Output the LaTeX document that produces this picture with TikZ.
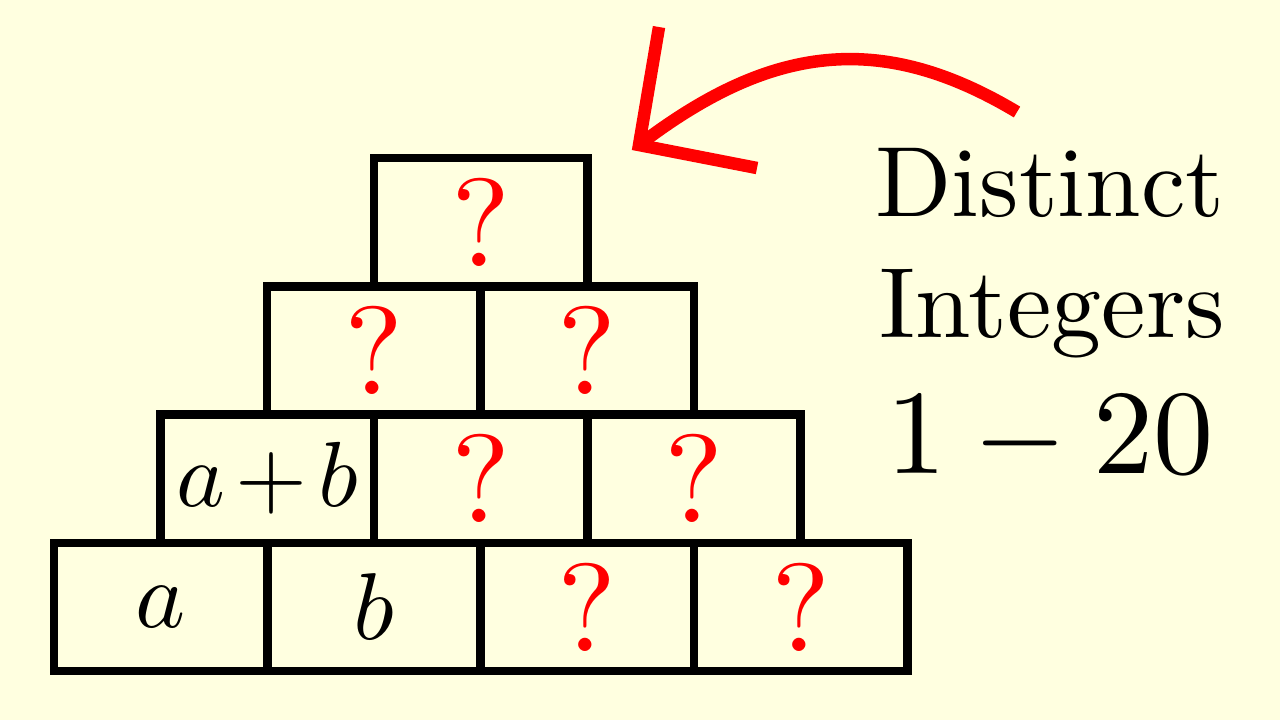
\documentclass[tikz,border=0pt]{standalone}
\usepackage{graphicx}
\definecolor{paper}{RGB}{255,255,224}
\tikzset{
cell/.style={rectangle, draw, line width=0.085cm, minimum width=2.133cm, minimum height=1.2825cm, inner sep=0pt},
ask/.style={cell, text=red},
caption/.style={anchor=base},
arrowline/.style={draw=red, line width=0.125cm, line join=miter}
}

\begin{document}
\begin{tikzpicture}[x=0.01cm, y=-0.01cm]
\fill[paper] (0,0) rectangle (1280,720);

% bottom row
\node[cell] (a1) at (160.65,606.9) {\scalebox{2.7}{$a$}};
\node[cell] (a2) at (373.95,606.9) {\scalebox{2.7}{$b$}};
\node[ask] (a3) at (587.25,606.9) {\scalebox{3.56}{?}};
\node[ask] (a4) at (800.55,606.9) {\scalebox{3.56}{?}};
% second row
\node[cell] (b1) at (267.3,478.6) {\scalebox{2.63}{$a\mkern2mu{+}\mkern2mu b$}};
\node[ask] (b2) at (480.6,478.6) {\scalebox{3.56}{?}};
\node[ask] (b3) at (693.9,478.6) {\scalebox{3.56}{?}};
% third row
\node[ask] (c1) at (373.95,350.4) {\scalebox{3.56}{?}};
\node[ask] (c2) at (587.25,350.4) {\scalebox{3.56}{?}};
% top
\node[ask] (d1) at (480.6,222.1) {\scalebox{3.56}{?}};

\node[caption] (distinct) at (1050,216) {\scalebox{2.84}{Distinct}};
\node[caption] (integers) at (1052,337) {\scalebox{2.84}{Integers}};
\node[caption] (range) at (1050,473) {\scalebox{3.42}{$1-20$}};

\coordinate (tail) at (1017,112);
\coordinate (tip) at (639,145);
\coordinate (barbup) at (659,27);
\coordinate (barbright) at (757,168);
\draw[arrowline] (tail) .. controls (880,30) and (770,45) .. (tip);
\draw[arrowline] (barbup) -- (tip) -- (barbright);
\end{tikzpicture}
\end{document}
